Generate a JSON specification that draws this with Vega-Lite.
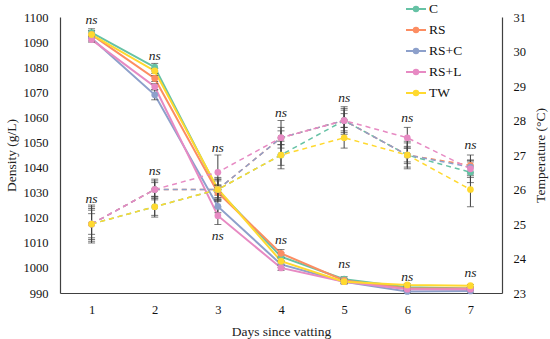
{
  "$schema": "https://vega.github.io/schema/vega-lite/v6.json",
  "width": 442,
  "height": 276,
  "autosize": {"type": "none"},
  "padding": {"left": 60, "top": 17, "right": 48, "bottom": 46},
  "background": "white",
  "config": {
    "view": {"stroke": null},
    "font": "Liberation Serif",
    "axis": {"grid": false, "ticks": false, "domainColor": "#404040", "domainWidth": 1.2, "labelFont": "Liberation Serif", "labelFontSize": 12.5, "labelColor": "#111", "labelOverlap": false, "titleFont": "Liberation Serif", "titleFontSize": 13.5, "titleFontWeight": "normal", "titleColor": "#222"}
  },
  "datasets": {
    "vals": [
      {"series": "C", "day": 1, "dens": 1093.8, "de": 1.5, "temp": 25.0, "te": 0.5},
      {"series": "C", "day": 2, "dens": 1080.0, "de": 1.5, "temp": 25.5, "te": 0.25},
      {"series": "C", "day": 3, "dens": 1031.0, "de": 2.0, "temp": 26.0, "te": 0.25},
      {"series": "C", "day": 4, "dens": 1004.5, "de": 1.5, "temp": 27.0, "te": 0.3},
      {"series": "C", "day": 5, "dens": 995.5, "de": 1.0, "temp": 28.0, "te": 0.35},
      {"series": "C", "day": 6, "dens": 992.3, "de": 0.6, "temp": 27.0, "te": 0.4},
      {"series": "C", "day": 7, "dens": 991.8, "de": 0.5, "temp": 26.5, "te": 0.3},
      {"series": "RS", "day": 1, "dens": 1093.0, "de": 1.5, "temp": 25.0, "te": 0.4},
      {"series": "RS", "day": 2, "dens": 1075.5, "de": 1.2, "temp": 26.0, "te": 0.2},
      {"series": "RS", "day": 3, "dens": 1030.0, "de": 2.0, "temp": 26.0, "te": 0.3},
      {"series": "RS", "day": 4, "dens": 1005.8, "de": 1.5, "temp": 27.5, "te": 0.3},
      {"series": "RS", "day": 5, "dens": 995.0, "de": 0.8, "temp": 28.0, "te": 0.4},
      {"series": "RS", "day": 6, "dens": 991.8, "de": 0.5, "temp": 27.0, "te": 0.35},
      {"series": "RS", "day": 7, "dens": 991.8, "de": 0.5, "temp": 26.7, "te": 0.3},
      {"series": "RS+C", "day": 1, "dens": 1091.5, "de": 1.0, "temp": 25.0, "te": 0.3},
      {"series": "RS+C", "day": 2, "dens": 1069.0, "de": 2.0, "temp": 26.0, "te": 0.25},
      {"series": "RS+C", "day": 3, "dens": 1024.5, "de": 2.5, "temp": 26.0, "te": 0.35},
      {"series": "RS+C", "day": 4, "dens": 1001.4, "de": 1.2, "temp": 27.5, "te": 0.2},
      {"series": "RS+C", "day": 5, "dens": 994.5, "de": 0.8, "temp": 28.0, "te": 0.2},
      {"series": "RS+C", "day": 6, "dens": 990.6, "de": 0.5, "temp": 27.0, "te": 0.25},
      {"series": "RS+C", "day": 7, "dens": 990.8, "de": 0.5, "temp": 26.65, "te": 0.2},
      {"series": "RS+L", "day": 1, "dens": 1091.0, "de": 1.0, "temp": 25.0, "te": 0.45},
      {"series": "RS+L", "day": 2, "dens": 1072.2, "de": 1.2, "temp": 26.0, "te": 0.3},
      {"series": "RS+L", "day": 3, "dens": 1020.8, "de": 3.5, "temp": 26.5, "te": 0.5},
      {"series": "RS+L", "day": 4, "dens": 1000.0, "de": 1.0, "temp": 27.5, "te": 0.5},
      {"series": "RS+L", "day": 5, "dens": 994.5, "de": 0.8, "temp": 28.0, "te": 0.3},
      {"series": "RS+L", "day": 6, "dens": 991.5, "de": 0.5, "temp": 27.5, "te": 0.3},
      {"series": "RS+L", "day": 7, "dens": 991.5, "de": 0.5, "temp": 26.6, "te": 0.25},
      {"series": "TW", "day": 1, "dens": 1093.0, "de": 1.5, "temp": 25.0, "te": 0.55},
      {"series": "TW", "day": 2, "dens": 1078.5, "de": 1.0, "temp": 25.5, "te": 0.3},
      {"series": "TW", "day": 3, "dens": 1031.5, "de": 1.5, "temp": 26.0, "te": 0.3},
      {"series": "TW", "day": 4, "dens": 1002.7, "de": 1.2, "temp": 27.0, "te": 0.4},
      {"series": "TW", "day": 5, "dens": 994.5, "de": 0.8, "temp": 27.5, "te": 0.3},
      {"series": "TW", "day": 6, "dens": 993.2, "de": 0.5, "temp": 27.0, "te": 0.2},
      {"series": "TW", "day": 7, "dens": 992.9, "de": 0.5, "temp": 26.0, "te": 0.5}
    ],
    "ns": [
      {"day": 1, "dlab": 1098.8, "tlab": 25.72, "txt": "ns"},
      {"day": 2, "dlab": 1084.5, "tlab": 26.54, "txt": "ns"},
      {"day": 3, "dlab": 1012.7, "tlab": 27.2, "txt": "ns"},
      {"day": 4, "dlab": 1011.1, "tlab": 28.22, "txt": "ns"},
      {"day": 5, "dlab": 1001.6, "tlab": 28.65, "txt": "ns"},
      {"day": 6, "dlab": 996.4, "tlab": 28.07, "txt": "ns"},
      {"day": 7, "dlab": 998.0, "tlab": 27.29, "txt": "ns"}
    ]
  },
  "encoding": {
    "x": {"field": "day", "type": "ordinal", "scale": {"type": "point", "padding": 0.5}, "axis": {"labelAngle": 0, "title": "Days since vatting", "labelPadding": 10, "titlePadding": 9}}
  },
  "layer": [
    {
      "data": {"name": "vals"},
      "layer": [
        {
          "mark": {"type": "line", "strokeWidth": 2},
          "encoding": {
            "y": {"field": "dens", "type": "quantitative", "scale": {"domain": [990, 1100], "nice": false, "zero": false}, "axis": {"orient": "left", "values": [990, 1000, 1010, 1020, 1030, 1040, 1050, 1060, 1070, 1080, 1090, 1100], "format": "d", "labelOverlap": false, "labelBound": false, "labelFlush": false, "title": "Density (g/L)", "labelPadding": 12, "titlePadding": 5}},
            "color": {"field": "series", "type": "nominal", "scale": {"domain": ["C", "RS", "RS+C", "RS+L", "TW"], "range": ["#66c2a5", "#fc8d62", "#8da0cb", "#e78ac3", "#ffd92f"]}, "legend": {"orient": "none", "legendX": 345, "legendY": -19, "title": null, "symbolType": "M-1,0H1M-0.22,0a0.22,0.22 0 1,0 0.44,0a0.22,0.22 0 1,0 -0.44,0", "symbolSize": 400, "symbolStrokeWidth": 2, "labelFont": "Liberation Serif", "labelFontSize": 13.5, "labelColor": "#111", "labelOffset": 2, "rowPadding": 3, "encode": {"symbols": {"update": {"fill": {"scale": "color", "field": "value"}, "stroke": {"scale": "color", "field": "value"}, "fillOpacity": {"value": 1}}}}}},
            "detail": {"field": "series"}
          }
        },
        {
          "mark": {"type": "errorbar", "ticks": true, "size": 7, "thickness": 1, "color": "#404040"},
          "encoding": {
            "y": {"field": "dens", "type": "quantitative", "axis": {"orient": "left", "values": [990, 1000, 1010, 1020, 1030, 1040, 1050, 1060, 1070, 1080, 1090, 1100], "format": "d", "labelOverlap": false, "labelBound": false, "labelFlush": false, "title": "Density (g/L)", "labelPadding": 12, "titlePadding": 5}},
            "yError": {"field": "de"}
          }
        },
        {
          "mark": {"type": "point", "filled": true, "size": 45, "opacity": 1},
          "encoding": {
            "y": {"field": "dens", "type": "quantitative", "axis": {"orient": "left", "values": [990, 1000, 1010, 1020, 1030, 1040, 1050, 1060, 1070, 1080, 1090, 1100], "format": "d", "labelOverlap": false, "labelBound": false, "labelFlush": false, "title": "Density (g/L)", "labelPadding": 12, "titlePadding": 5}},
            "color": {"field": "series", "type": "nominal"}
          }
        },
        {
          "data": {"name": "ns"},
          "mark": {"type": "text", "fontStyle": "italic", "fontSize": 13.5, "font": "Liberation Serif", "color": "#222", "baseline": "middle"},
          "encoding": {
            "y": {"field": "dlab", "type": "quantitative", "axis": {"orient": "left", "values": [990, 1000, 1010, 1020, 1030, 1040, 1050, 1060, 1070, 1080, 1090, 1100], "format": "d", "labelOverlap": false, "labelBound": false, "labelFlush": false, "title": "Density (g/L)", "labelPadding": 12, "titlePadding": 5}},
            "text": {"field": "txt"}
          }
        }
      ]
    },
    {
      "data": {"name": "vals"},
      "layer": [
        {
          "mark": {"type": "line", "strokeDash": [5, 4], "strokeWidth": 1.5},
          "encoding": {
            "y": {"field": "temp", "type": "quantitative", "scale": {"domain": [23, 31], "nice": false, "zero": false}, "axis": {"orient": "right", "values": [23, 24, 25, 26, 27, 28, 29, 30, 31], "labelOverlap": false, "labelBound": false, "labelFlush": false, "title": "Temperature (°C)", "titleAngle": 270, "titleBaseline": "bottom", "labelPadding": 11, "titlePadding": 22}},
            "color": {"field": "series", "type": "nominal"},
            "detail": {"field": "series"}
          }
        },
        {
          "mark": {"type": "errorbar", "ticks": true, "size": 7, "thickness": 1, "color": "#404040"},
          "encoding": {
            "y": {"field": "temp", "type": "quantitative", "axis": {"orient": "right", "values": [23, 24, 25, 26, 27, 28, 29, 30, 31], "labelOverlap": false, "labelBound": false, "labelFlush": false, "title": "Temperature (°C)", "titleAngle": 270, "titleBaseline": "bottom", "labelPadding": 11, "titlePadding": 22}},
            "yError": {"field": "te"}
          }
        },
        {
          "mark": {"type": "point", "filled": true, "size": 45, "opacity": 1},
          "encoding": {
            "y": {"field": "temp", "type": "quantitative", "axis": {"orient": "right", "values": [23, 24, 25, 26, 27, 28, 29, 30, 31], "labelOverlap": false, "labelBound": false, "labelFlush": false, "title": "Temperature (°C)", "titleAngle": 270, "titleBaseline": "bottom", "labelPadding": 11, "titlePadding": 22}},
            "color": {"field": "series", "type": "nominal"}
          }
        },
        {
          "data": {"name": "ns"},
          "mark": {"type": "text", "fontStyle": "italic", "fontSize": 13.5, "font": "Liberation Serif", "color": "#222", "baseline": "middle"},
          "encoding": {
            "y": {"field": "tlab", "type": "quantitative", "axis": {"orient": "right", "values": [23, 24, 25, 26, 27, 28, 29, 30, 31], "labelOverlap": false, "labelBound": false, "labelFlush": false, "title": "Temperature (°C)", "titleAngle": 270, "titleBaseline": "bottom", "labelPadding": 11, "titlePadding": 22}},
            "text": {"field": "txt"}
          }
        }
      ]
    }
  ],
  "resolve": {"scale": {"y": "independent"}}
}
